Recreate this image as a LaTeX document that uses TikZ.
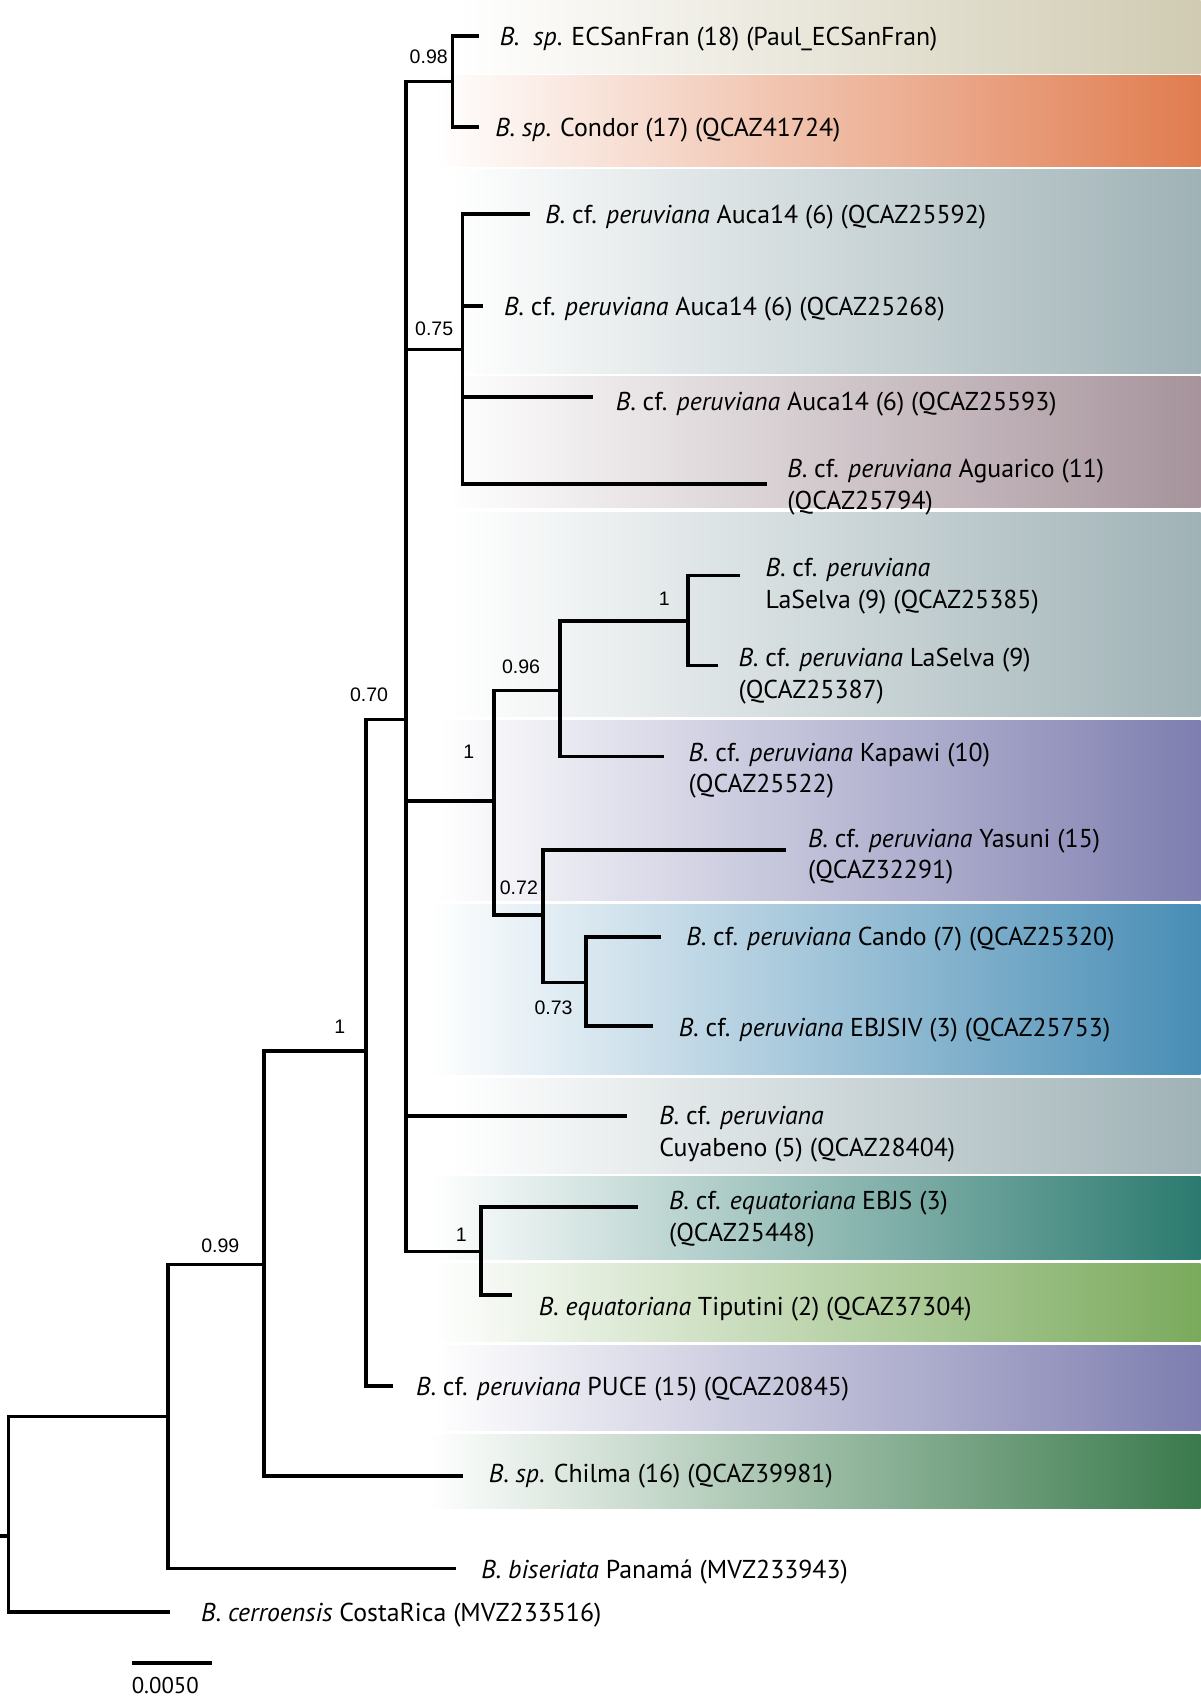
\documentclass[tikz,border=0pt]{standalone}
\usepackage{fontspec}
\setmainfont{PT Sans}
\newfontfamily\supfont{Liberation Sans}
\definecolor{cKhaki}{RGB}{208,203,178}
\definecolor{cOrange}{RGB}{224,124,79}
\definecolor{cGreyTeal}{RGB}{159,178,182}
\definecolor{cMauve}{RGB}{166,147,155}
\definecolor{cPurple}{RGB}{126,126,176}
\definecolor{cBlue}{RGB}{72,141,181}
\definecolor{cTeal}{RGB}{43,122,111}
\definecolor{cGreen}{RGB}{122,170,92}
\definecolor{cDarkGreen}{RGB}{58,122,76}
\begin{document}
\begin{tikzpicture}[x=0.5pt,y=-0.5pt,
  branch/.style={line width=1.65pt,line cap=rect},
  tip/.style={anchor=west,align=left,inner sep=0pt,yshift=-1.5pt,font=\fontsize{11.9}{14.5}\selectfont},
  sup/.style={inner sep=0pt,font=\supfont\fontsize{9}{10}\selectfont},
  band/.style={left color=white,right color=#1,draw=none}]
\useasboundingbox (0,0) rectangle (1106,1568);
% colour bands
\shade[band=cKhaki] (420,0) rectangle (1106,68);
\shade[band=cOrange] (400,70) rectangle (1106,153);
\shade[band=cGreyTeal] (415,156) rectangle (1106,344);
\shade[band=cMauve] (413,347) rectangle (1106,468);
\shade[band=cGreyTeal] (415,472) rectangle (1106,660);
\shade[band=cPurple] (403,664) rectangle (1106,830);
\shade[band=cBlue] (395,833) rectangle (1106,990);
\shade[band=cGreyTeal] (415,994) rectangle (1106,1081);
\shade[band=cTeal] (397,1084) rectangle (1106,1160);
\shade[band=cGreen] (397,1164) rectangle (1106,1236);
\shade[band=cPurple] (400,1240) rectangle (1106,1318);
\shade[band=cDarkGreen] (395,1322) rectangle (1106,1390);
% internal nodes
\coordinate (tick) at (0,1415);
\coordinate (root) at (8,1415);
\coordinate (nA) at (155,1305);
\coordinate (nB) at (243,1165);
\coordinate (nC) at (337,968);
\coordinate (nD) at (374,663);
\coordinate (nE) at (417,75);
\coordinate (nF) at (426,322);
\coordinate (nG) at (455,738);
\coordinate (nI) at (516,636);
\coordinate (nK) at (634,572);
\coordinate (nJ) at (500,843);
\coordinate (nL) at (540,905);
\coordinate (nH) at (443,1153);
% tip ends
\coordinate (tSanFran) at (440,33);
\coordinate (tCondor) at (440,117);
\coordinate (tAucaA) at (487,197);
\coordinate (tAucaB) at (443,282);
\coordinate (tAucaC) at (545,366);
\coordinate (tAguarico) at (705,446);
\coordinate (tSelvaA) at (680,530);
\coordinate (tSelvaB) at (660,613);
\coordinate (tKapawi) at (610,697);
\coordinate (tYasuni) at (722,783);
\coordinate (tCando) at (607,863);
\coordinate (tEBJSIV) at (600,945);
\coordinate (tCuyabeno) at (576,1028);
\coordinate (tEBJS) at (586,1112);
\coordinate (tTiputini) at (470,1193);
\coordinate (tPUCE) at (360,1277);
\coordinate (tChilma) at (425,1360);
\coordinate (tBiseriata) at (418,1445);
\coordinate (tCerro) at (155,1485);
% branches
\draw[branch] (tick) -- (root);
\draw[branch] (root) |- (nA);
\draw[branch] (root) |- (tCerro);
\draw[branch] (nA) |- (nB);
\draw[branch] (nA) |- (tBiseriata);
\draw[branch] (nB) |- (nC);
\draw[branch] (nB) |- (tChilma);
\draw[branch] (nC) |- (nD);
\draw[branch] (nC) |- (tPUCE);
\draw[branch] (nD) |- (nE);
\draw[branch] (nD) |- (nF);
\draw[branch] (nD) |- (nG);
\draw[branch] (nD) |- (tCuyabeno);
\draw[branch] (nD) |- (nH);
\draw[branch] (nE) |- (tSanFran);
\draw[branch] (nE) |- (tCondor);
\draw[branch] (nF) |- (tAucaA);
\draw[branch] (nF) |- (tAucaB);
\draw[branch] (nF) |- (tAucaC);
\draw[branch] (nF) |- (tAguarico);
\draw[branch] (nG) |- (nI);
\draw[branch] (nG) |- (nJ);
\draw[branch] (nI) |- (nK);
\draw[branch] (nI) |- (tKapawi);
\draw[branch] (nK) |- (tSelvaA);
\draw[branch] (nK) |- (tSelvaB);
\draw[branch] (nJ) |- (tYasuni);
\draw[branch] (nJ) |- (nL);
\draw[branch] (nL) |- (tCando);
\draw[branch] (nL) |- (tEBJSIV);
\draw[branch] (nH) |- (tEBJS);
\draw[branch] (nH) |- (tTiputini);
% support values
\node[sup] (sE) at (395,52) {0.98};
\node[sup] (sF) at (400,303) {0.75};
\node[sup] (sD) at (340,640) {0.70};
\node[sup] (sC) at (313,946) {1};
\node[sup] (sB) at (203,1148) {0.99};
\node[sup] (sG) at (432,693) {1};
\node[sup] (sI) at (480,614) {0.96};
\node[sup] (sK) at (612,552) {1};
\node[sup] (sJ) at (478,818) {0.72};
\node[sup] (sL) at (510,928) {0.73};
\node[sup] (sH) at (425,1138) {1};
% tip labels
\node[tip] (lSanFran) at (460,33) {\textit{B.\ \ sp}. ECSanFran (18) (Paul\_ECSanFran)};
\node[tip] (lCondor) at (456,117) {\textit{B.\ sp}. Condor (17) (QCAZ41724)};
\node[tip] (lAucaA) at (502,197) {\textit{B}. cf. \textit{peruviana} Auca14 (6) (QCAZ25592)};
\node[tip] (lAucaB) at (464,282) {\textit{B}. cf. \textit{peruviana} Auca14 (6) (QCAZ25268)};
\node[tip] (lAucaC) at (567,369) {\textit{B}. cf. \textit{peruviana} Auca14 (6) (QCAZ25593)};
\node[tip] (lAguarico) at (725,446) {\textit{B}. cf. \textit{peruviana} Aguarico (11)\\(QCAZ25794)};
\node[tip] (lSelvaA) at (705,537) {\textit{B}. cf. \textit{peruviana}\\LaSelva (9) (QCAZ25385)};
\node[tip] (lSelvaB) at (680,620) {\textit{B}. cf. \textit{peruviana} LaSelva (9)\\(QCAZ25387)};
\node[tip] (lKapawi) at (634,707) {\textit{B}. cf. \textit{peruviana} Kapawi (10)\\(QCAZ25522)};
\node[tip] (lYasuni) at (744,786) {\textit{B}. cf. \textit{peruviana} Yasuni (15)\\(QCAZ32291)};
\node[tip] (lCando) at (632,862) {\textit{B}. cf. \textit{peruviana} Cando (7) (QCAZ25320)};
\node[tip] (lEBJSIV) at (625,946) {\textit{B}. cf. \textit{peruviana} EBJSIV (3) (QCAZ25753)};
\node[tip] (lCuyabeno) at (607,1042) {\textit{B}. cf. \textit{peruviana}\\Cuyabeno (5) (QCAZ28404)};
\node[tip] (lEBJS) at (616,1120) {\textit{B}. cf. \textit{equatoriana} EBJS (3)\\(QCAZ25448)};
\node[tip] (lTiputini) at (496,1203) {\textit{B}. \textit{equatoriana} Tiputini (2) (QCAZ37304)};
\node[tip] (lPUCE) at (383,1277) {\textit{B}. cf. \textit{peruviana} PUCE (15) (QCAZ20845)};
\node[tip] (lChilma) at (450,1357) {\textit{B}. \textit{sp}. Chilma (16) (QCAZ39981)};
\node[tip] (lBiseriata) at (443,1445) {\textit{B}. \textit{biseriata} Panamá (MVZ233943)};
\node[tip] (lCerro) at (185,1485) {\textit{B}. \textit{cerroensis} CostaRica (MVZ233516)};
% scale bar
\coordinate (sbA) at (122,1532);
\coordinate (sbB) at (195,1532);
\draw[line width=2pt] (sbA) -- (sbB);
\node[inner sep=0pt,font=\fontsize{10.5}{12}\selectfont,anchor=west] (sbLabel) at (121,1553) {0.0050};
\end{tikzpicture}
\end{document}
